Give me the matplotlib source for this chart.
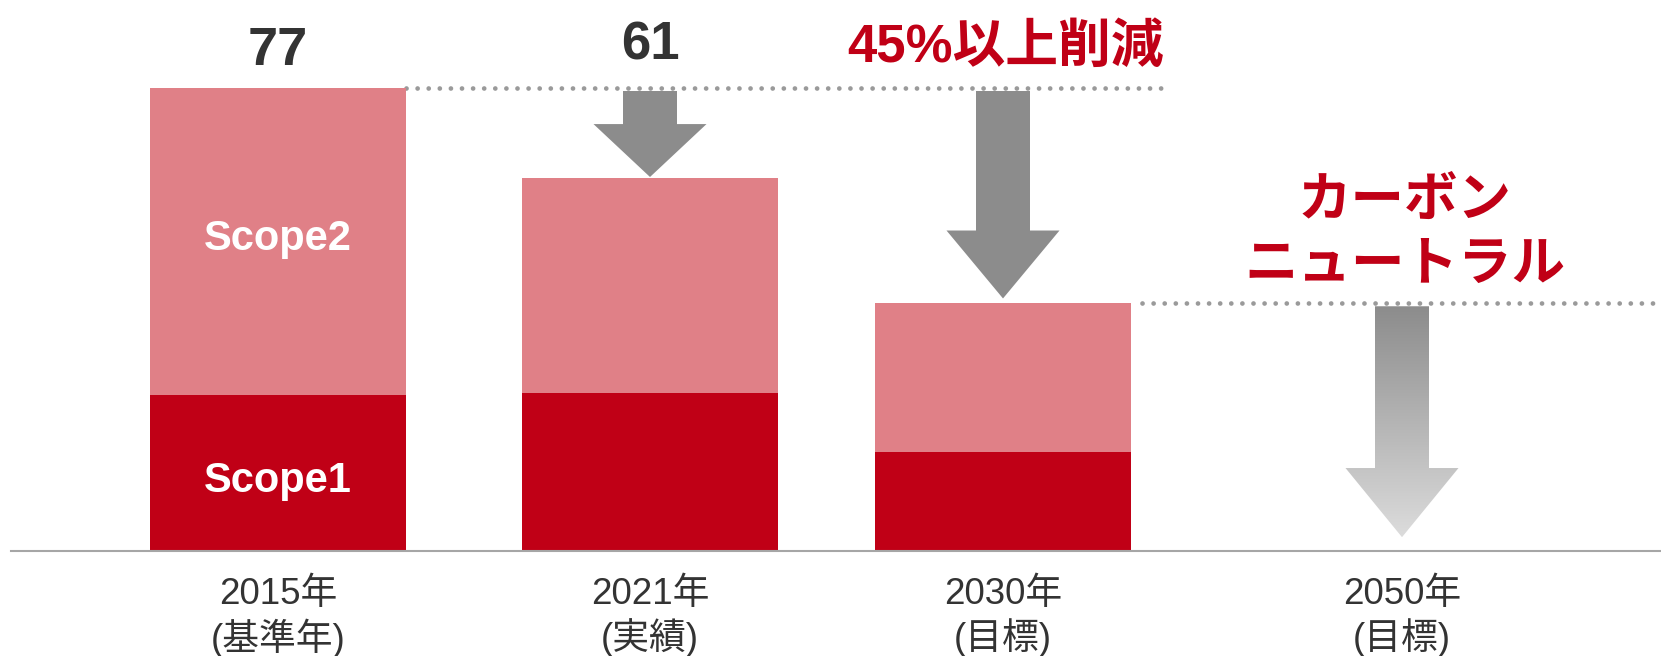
#!/usr/bin/env python3
"""CO2 emissions reduction roadmap: stacked Scope1/Scope2 bars with target arrows."""

import matplotlib

matplotlib.use("Agg")
import matplotlib.pyplot as plt
import numpy as np
from matplotlib.colors import LinearSegmentedColormap
from matplotlib.patches import Polygon

plt.rcParams["font.family"] = ["Liberation Sans", "Noto Sans CJK JP"]

# data
years = ["2015年\n(基準年)", "2021年\n(実績)", "2030年\n(目標)", "2050年\n(目標)"]
scope1 = [26, 26.2, 16.5]
scope2 = [51, 35.8, 24.7]
total_labels = ["77", "61"]
target_label = "45%以上削減"
neutral_lines = ["カーボン", "ニュートラル"]

# layout (figure is 1661 x 656 px, x axis runs in pixel units)
x_pos = [278, 650, 1003, 1402]
bar_w = 256
px_per_unit = 6.013

RED = "#c00016"
PINK = "#e08087"
GREY = "#8c8c8c"
TEXT = "#333333"

fig = plt.figure(figsize=(16.61, 6.56), dpi=100)
ax = fig.add_axes([0, 105 / 656, 1, 551 / 656])

n = len(scope1)
ax.bar(x_pos[:n], scope1, width=bar_w, color=RED, zorder=2)
ax.bar(x_pos[:n], scope2, width=bar_w, bottom=scope1, color=PINK, zorder=2)
totals = [a + b for a, b in zip(scope1, scope2)]

# segment names inside the first bar
ax.text(x_pos[0], 50.1, "Scope2", color="white", fontsize=30, fontweight="bold",
        ha="center", va="baseline", zorder=3)
ax.text(x_pos[0], 9.8, "Scope1", color="white", fontsize=30, fontweight="bold",
        ha="center", va="baseline", zorder=3)

# totals above bars
ax.text(x_pos[0], 80.8, total_labels[0], color=TEXT, fontsize=39, fontweight="bold",
        ha="center", va="baseline")
ax.text(x_pos[1], 81.7, total_labels[1], color=TEXT, fontsize=38, fontweight="bold",
        ha="center", va="baseline")
ax.text(1006, 81.3, target_label, color=RED, fontsize=38, fontweight="bold",
        ha="center", va="baseline")
ax.text(1405, 55.7, neutral_lines[0], color=RED, fontsize=38.5, fontweight="bold",
        ha="center", va="baseline")
ax.text(1405, 45.1, neutral_lines[1], color=RED, fontsize=38.5, fontweight="bold",
        ha="center", va="baseline")

# dotted reference lines
dot_style = dict(color="#9a9a9a", linewidth=3.4, linestyle=(0, (0.01, 2.34)),
                 dash_capstyle="round", zorder=1)
ax.plot([x_pos[0] + bar_w / 2, 1162], [totals[0], totals[0]], **dot_style)
ax.plot([1142, 1661], [totals[2], totals[2]], **dot_style)


def arrow_poly(xc, top, tip, head_len, shaft_w=54, head_w=113):
    head_y = tip + head_len
    return [
        (xc - shaft_w / 2, top), (xc + shaft_w / 2, top),
        (xc + shaft_w / 2, head_y), (xc + head_w / 2, head_y),
        (xc, tip),
        (xc - head_w / 2, head_y), (xc - shaft_w / 2, head_y),
    ]


gap = 0.5
ax.add_patch(Polygon(arrow_poly(x_pos[1], totals[0] - gap, totals[1] + 0.2, 8.8),
                     closed=True, color=GREY, lw=0, zorder=2))
ax.add_patch(Polygon(arrow_poly(x_pos[2], totals[0] - gap, totals[2] + 0.8, 11.3),
                     closed=True, color=GREY, lw=0, zorder=2))

# gradient arrow towards zero for 2050
top3, tip3 = totals[2] - gap, 2.3
poly = Polygon(arrow_poly(x_pos[3], top3, tip3, 11.5), closed=True,
               facecolor="none", lw=0)
ax.add_patch(poly)
cmap = LinearSegmentedColormap.from_list("fade", [GREY, "#dcdcdc"])
grad = np.linspace(0, 1, 256).reshape(-1, 1)
img = ax.imshow(grad, cmap=cmap, aspect="auto", zorder=2,
                extent=[x_pos[3] - 60, x_pos[3] + 60, tip3, top3], origin="upper")
img.set_clip_path(poly)

# axis styling
for side in ["top", "right", "left"]:
    ax.spines[side].set_visible(False)
ax.spines["bottom"].set_color("#a6a6a6")
ax.spines["bottom"].set_linewidth(1.5)
ax.spines["bottom"].set_bounds(11, 1661)
ax.set_yticks([])
ax.set_xticks(x_pos)
ax.set_xticklabels(years, fontsize=26.5, color=TEXT, linespacing=1.2)
ax.tick_params(axis="x", length=0, pad=19)
ax.set_xlim(0, 1661)
ax.set_ylim(0, 551 / px_per_unit)

fig.savefig("out.png", dpi=100)
